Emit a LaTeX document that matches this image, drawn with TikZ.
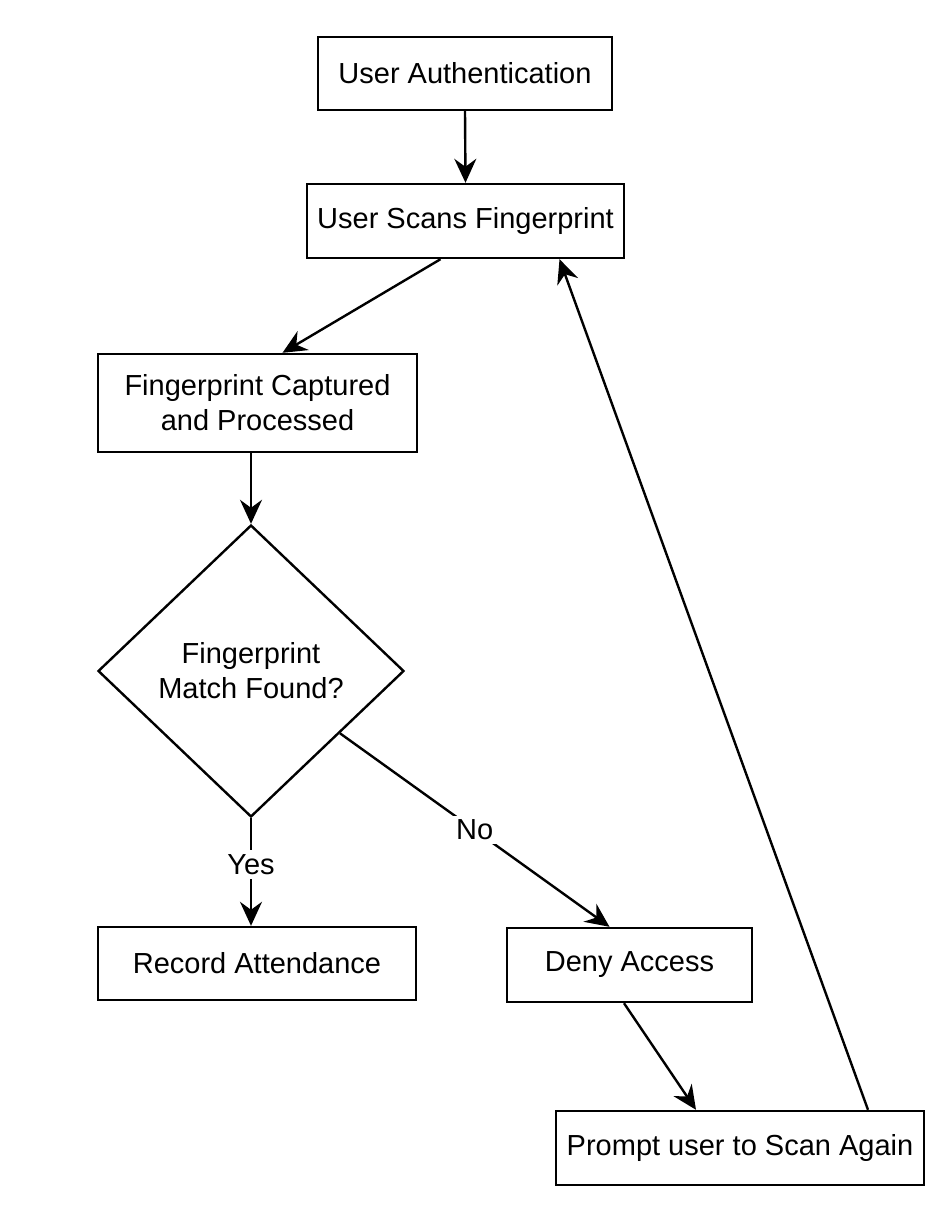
\documentclass[tikz,border=0pt]{standalone}
\usepackage{fontspec}
\setmainfont{Liberation Sans}
\usetikzlibrary{arrows.meta,shapes.geometric}
\begin{document}
\begin{tikzpicture}[x=0.5pt, y=-0.5pt, line width=1.2pt,
        every node/.style={font=\fontsize{14.5}{17.5}\selectfont, align=center},
        stepbox/.style={draw, rectangle, inner sep=0pt},
        arr/.style={-{Stealth[length=12pt, width=11pt, inset=4pt]}}]
    \useasboundingbox (0,0) rectangle (950,1215);
    % boxes: centre x/y, then size in px
    \node[stepbox, minimum width=147pt, minimum height=36.5pt] (auth) at (465,73.5) {User Authentication};
    \node[stepbox, minimum width=158.5pt, minimum height=37pt] (scan) at (465.5,221) {User Scans Fingerprint};
    \node[stepbox, minimum width=159.5pt, minimum height=49pt] (capt) at (257.5,403) {Fingerprint Captured\\and Processed};
    \node[draw, diamond, inner sep=0pt, minimum width=153pt, minimum height=146pt] (match) at (251,671) {Fingerprint\\Match Found?};
    \node[stepbox, minimum width=159pt, minimum height=36.5pt] (rec) at (257,963.5) {Record Attendance};
    \node[stepbox, minimum width=122.5pt, minimum height=37pt] (deny) at (629.5,965) {Deny Access};
    \node[stepbox, minimum width=184pt, minimum height=37pt] (again) at (740,1148) {Prompt user to Scan Again};
    % connectors
    \draw[arr] (auth.south) -- (scan.north);
    \draw[arr] ([xshift=-12.5pt]scan.south) -- ([xshift=12.5pt]capt.north);
    \draw[arr] (capt.south -| match.north) -- (match.north);
    \draw[arr] (match.south) -- node[pos=0.43, fill=white, inner sep=2pt] {Yes} (match.south |- rec.north);
    \draw[arr] (match.-35) -- node[fill=white, inner sep=2pt] {No} ([xshift=-10pt]deny.north);
    \draw[arr] ([xshift=-2.75pt]deny.south) -- ([xshift=-22pt]again.north);
    \draw[arr] ([xshift=64pt]again.north) -- ([xshift=47pt]scan.south);
\end{tikzpicture}
\end{document}
